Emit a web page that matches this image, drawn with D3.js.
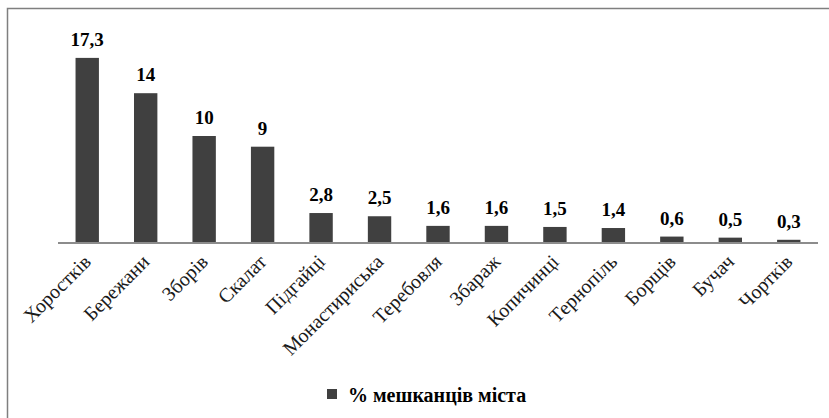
<!DOCTYPE html>
<html>
<head>
<meta charset="utf-8">
<script src="https://cdn.jsdelivr.net/npm/d3@7"></script>
<style>
  body { margin: 0; background: #fff; }
  svg { display: block; }
</style>
</head>
<body>
<svg id="chart" width="829" height="418"></svg>
<script>
const categories = ['Хоростків', 'Бережани', 'Зборів', 'Скалат', 'Підгайці', 'Монастириська',
  'Теребовля', 'Збараж', 'Копичинці', 'Тернопіль', 'Борщів', 'Бучач', 'Чортків'];
const values = [17.3, 14, 10, 9, 2.8, 2.5, 1.6, 1.6, 1.5, 1.4, 0.6, 0.5, 0.3];
const seriesName = '% мешканців міста';

const svg = d3.select('#chart');
const font = '"Liberation Serif", "Times New Roman", serif';

// outer frame (right and bottom edges fall outside the picture)
svg.append('rect')
  .attr('x', 7.5).attr('y', 8.5)
  .attr('width', 840).attr('height', 430)
  .attr('fill', 'none')
  .attr('stroke', '#7f7f7f')
  .attr('stroke-width', 1.5);

const x = d3.scaleBand()
  .domain(categories)
  .range([58, 818])
  .paddingInner(0.6)
  .paddingOuter(0.3);

const y = d3.scaleLinear()
  .domain([0, 20])
  .range([243, 29]);

const fmt = (v) => String(v).replace('.', ',');

svg.append('g')
  .selectAll('rect')
  .data(values)
  .join('rect')
  .attr('x', (d, i) => x(categories[i]))
  .attr('y', (d) => y(d))
  .attr('width', x.bandwidth())
  .attr('height', (d) => y(0) - y(d))
  .attr('fill', '#404040');

svg.append('g')
  .selectAll('text')
  .data(values)
  .join('text')
  .attr('x', (d, i) => x(categories[i]) + x.bandwidth() / 2)
  .attr('y', (d) => y(d) - 12)
  .attr('text-anchor', 'middle')
  .style('font-family', font)
  .style('font-weight', 'bold')
  .style('font-size', '19px')
  .attr('fill', '#000')
  .text(fmt);

const axis = svg.append('g')
  .attr('transform', `translate(0,${y(0)})`)
  .call(d3.axisBottom(x).tickSize(0).tickPadding(0));

axis.select('.domain')
  .attr('d', 'M58,0H818')
  .attr('stroke', '#8c8c8c')
  .attr('stroke-width', 2);

axis.selectAll('.tick text')
  .style('font-family', font)
  .style('font-size', '20px')
  .attr('fill', '#1a1a1a')
  .attr('text-anchor', 'end')
  .attr('dy', null)
  .attr('y', 0)
  .attr('transform', 'translate(5,20) rotate(-45)');

// legend
const legend = svg.append('g').attr('transform', 'translate(327,389)');
legend.append('rect')
  .attr('width', 10).attr('height', 10)
  .attr('fill', '#404040');
legend.append('text')
  .attr('x', 21).attr('y', 13)
  .style('font-family', font)
  .style('font-weight', 'bold')
  .style('font-size', '20px')
  .attr('fill', '#000')
  .text(seriesName);
</script>
</body>
</html>
